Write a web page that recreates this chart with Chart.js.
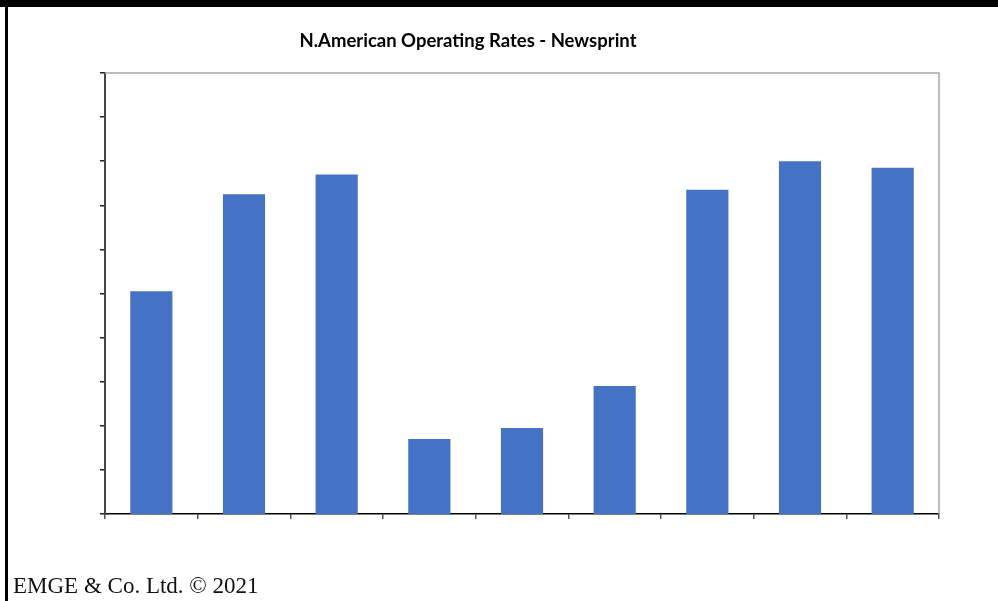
<!DOCTYPE html>
<html>
<head>
<meta charset="utf-8">
<title>N.American Operating Rates - Newsprint</title>
<script src="https://cdn.jsdelivr.net/npm/chart.js@4.4.1/dist/chart.umd.min.js"></script>
<style>
    html, body { margin: 0; padding: 0; background: #fff; }
    #page {
        position: relative;
        width: 998px;
        height: 601px;
        overflow: hidden;
        border-top: 7px solid #000;
        box-sizing: border-box;
    }
    #page::before {
        content: '';
        position: absolute;
        left: 5px; top: 0; bottom: 0;
        width: 3px;
        background: #000;
    }
    #title {
        position: absolute;
        top: 22px;
        left: 0;
        width: 936px;
        text-align: center;
        font-family: 'Lato', 'Open Sans', sans-serif;
        font-weight: bold;
        font-size: 18.5px;
        color: #000;
    }
    #footer {
        position: absolute;
        left: 13px;
        top: 566px;
        font-family: 'Liberation Serif', 'DejaVu Serif', serif;
        font-size: 23px;
        color: #111;
    }
    #chartBox {
        position: absolute;
        left: 0; top: -7px;
        width: 998px; height: 601px;
    }
</style>
</head>
<body>
<div id="page">
    <div id="chartBox"><canvas id="ratesChart"></canvas></div>
    <div id="title">N.American Operating Rates - Newsprint</div>
    <div id="footer">EMGE &amp; Co. Ltd. &copy; 2021</div>
</div>
<script>
// operating rates (%), one bar per year
const years = ['2012', '2013', '2014', '2015', '2016', '2017', '2018', '2019', '2020'];
const rates = [90.1, 94.5, 95.4, 83.4, 83.9, 85.8, 94.7, 96.0, 95.7];
const yMin = 80;
const yMax = 100;
const yStep = 2;

// light frame on the top and right of the plot area
const plotFrame = {
    id: 'plotFrame',
    beforeDatasetsDraw(chart) {
        const { ctx, chartArea: a } = chart;
        ctx.save();
        ctx.strokeStyle = '#a6a6a6';
        ctx.lineWidth = 1.5;
        ctx.beginPath();
        ctx.moveTo(a.left, a.top);
        ctx.lineTo(a.right, a.top);
        ctx.lineTo(a.right, a.bottom);
        ctx.stroke();
        ctx.restore();
    }
};

const renderRatesChart = () => {
    const ctx = document.getElementById('ratesChart');
    new Chart(ctx.getContext('2d'), {
        type: 'bar',
        data: {
            labels: years,
            datasets: [{
                data: rates,
                backgroundColor: '#4472c4',
                borderWidth: 0,
                categoryPercentage: 1,
                barPercentage: 0.455
            }]
        },
        plugins: [plotFrame],
        options: {
            responsive: true,
            maintainAspectRatio: false,
            animation: false,
            layout: {
                padding: { left: 100, right: 59, top: 73, bottom: 82 }
            },
            plugins: {
                legend: { display: false },
                title: { display: false },
                tooltip: { enabled: false }
            },
            scales: {
                x: {
                    grid: {
                        offset: true,
                        drawOnChartArea: false,
                        drawTicks: true,
                        tickLength: 5,
                        color: '#555',
                        lineWidth: 1.5
                    },
                    border: { color: '#000', width: 1.5 },
                    ticks: { display: false }
                },
                y: {
                    min: yMin,
                    max: yMax,
                    grid: {
                        drawOnChartArea: false,
                        drawTicks: true,
                        tickLength: 5,
                        color: '#222',
                        lineWidth: 1.5
                    },
                    border: { color: '#444', width: 2 },
                    ticks: { display: false, stepSize: yStep }
                }
            }
        }
    });
};

renderRatesChart();
</script>
</body>
</html>
